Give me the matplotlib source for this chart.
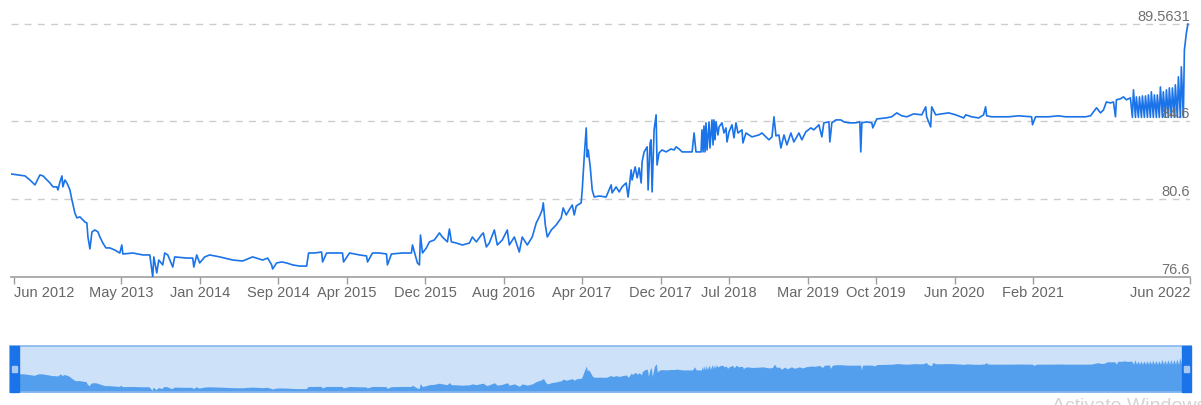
import matplotlib.pyplot as plt
from matplotlib.patches import Rectangle

plt.rcParams['font.family'] = ['Liberation Sans', 'DejaVu Sans']

# readings: decimal year, value
dates = [
    2012.400, 2012.519, 2012.561, 2012.604, 2012.646, 2012.672, 2012.731, 2012.757, 2012.790, 2012.799,
    2012.816, 2012.833, 2012.841, 2012.858, 2012.875, 2012.901, 2012.918, 2012.943, 2012.960, 2012.986,
    2013.028, 2013.045, 2013.054, 2013.071, 2013.088, 2013.113, 2013.139, 2013.156, 2013.181, 2013.207,
    2013.240, 2013.283, 2013.325, 2013.342, 2013.351, 2013.436, 2013.521, 2013.580, 2013.605, 2013.614,
    2013.639, 2013.656, 2013.690, 2013.707, 2013.733, 2013.775, 2013.792, 2013.894, 2013.945, 2013.954,
    2013.979, 2014.004, 2014.047, 2014.089, 2014.174, 2014.285, 2014.369, 2014.454, 2014.539, 2014.582,
    2014.616, 2014.624, 2014.658, 2014.701, 2014.743, 2014.794, 2014.853, 2014.913, 2014.930, 2014.981,
    2015.040, 2015.049, 2015.083, 2015.167, 2015.218, 2015.227, 2015.278, 2015.363, 2015.422, 2015.431,
    2015.473, 2015.532, 2015.592, 2015.600, 2015.634, 2015.728, 2015.804, 2015.813, 2015.855, 2015.872,
    2015.881, 2015.898, 2015.931, 2015.957, 2015.999, 2016.042, 2016.067, 2016.110, 2016.127, 2016.144,
    2016.186, 2016.237, 2016.297, 2016.322, 2016.356, 2016.398, 2016.415, 2016.441, 2016.466, 2016.509,
    2016.534, 2016.577, 2016.619, 2016.636, 2016.679, 2016.721, 2016.746, 2016.789, 2016.831, 2016.865,
    2016.891, 2016.916, 2016.925, 2016.942, 2016.959, 2016.993, 2017.035, 2017.077, 2017.094, 2017.120,
    2017.145, 2017.171, 2017.188, 2017.205, 2017.247, 2017.256, 2017.273, 2017.290, 2017.298, 2017.307,
    2017.324, 2017.341, 2017.358, 2017.400, 2017.459, 2017.502, 2017.510, 2017.544, 2017.570, 2017.595,
    2017.629, 2017.646, 2017.672, 2017.680, 2017.706, 2017.723, 2017.740, 2017.757, 2017.765, 2017.782,
    2017.808, 2017.816, 2017.833, 2017.841, 2017.850, 2017.867, 2017.884, 2017.892, 2017.909, 2017.935,
    2017.969, 2018.011, 2018.037, 2018.054, 2018.079, 2018.105, 2018.190, 2018.207, 2018.223, 2018.266,
    2018.274, 2018.283, 2018.291, 2018.300, 2018.308, 2018.317, 2018.334, 2018.342, 2018.359, 2018.368,
    2018.376, 2018.385, 2018.393, 2018.410, 2018.419, 2018.444, 2018.461, 2018.478, 2018.487, 2018.504,
    2018.529, 2018.546, 2018.563, 2018.580, 2018.614, 2018.622, 2018.648, 2018.699, 2018.758, 2018.784,
    2018.818, 2018.843, 2018.869, 2018.886, 2018.903, 2018.928, 2018.945, 2018.971, 2018.996, 2019.030,
    2019.055, 2019.098, 2019.123, 2019.157, 2019.200, 2019.225, 2019.268, 2019.293, 2019.310, 2019.353,
    2019.361, 2019.378, 2019.412, 2019.454, 2019.480, 2019.522, 2019.582, 2019.616, 2019.624, 2019.633,
    2019.675, 2019.718, 2019.726, 2019.760, 2019.836, 2019.887, 2019.930, 2019.972, 2020.015, 2020.074,
    2020.142, 2020.176, 2020.184, 2020.218, 2020.227, 2020.261, 2020.312, 2020.371, 2020.431, 2020.499,
    2020.516, 2020.566, 2020.626, 2020.668, 2020.685, 2020.694, 2020.736, 2020.796, 2020.881, 2020.965,
    2021.076, 2021.084, 2021.110, 2021.220, 2021.305, 2021.364, 2021.449, 2021.534, 2021.577, 2021.602,
    2021.628, 2021.662, 2021.687, 2021.712, 2021.746, 2021.772, 2021.789, 2021.797, 2021.831, 2021.857,
    2021.882, 2021.916, 2021.933, 2021.942, 2021.959, 2021.967, 2021.984, 2021.993, 2022.010, 2022.018,
    2022.035, 2022.044, 2022.061, 2022.069, 2022.086, 2022.094, 2022.111, 2022.120, 2022.137, 2022.145,
    2022.162, 2022.171, 2022.188, 2022.196, 2022.213, 2022.222, 2022.239, 2022.247, 2022.264, 2022.273,
    2022.290, 2022.298, 2022.315, 2022.324, 2022.341, 2022.349, 2022.366, 2022.375, 2022.383, 2022.392,
    2022.405,
]
rate = [
    81.88, 81.78, 81.57, 81.32, 81.83, 81.78, 81.42, 81.22, 81.22, 81.06,
    81.47, 81.78, 81.22, 81.57, 81.42, 81.06, 80.55, 79.88, 79.63, 79.68,
    79.42, 79.37, 78.65, 78.04, 78.91, 79.01, 78.91, 78.65, 78.34, 78.09,
    78.09, 77.98, 77.83, 78.24, 77.78, 77.83, 77.73, 77.73, 76.60, 77.63,
    76.81, 77.47, 77.22, 77.83, 77.73, 77.11, 77.63, 77.57, 77.57, 77.11,
    77.73, 77.32, 77.63, 77.73, 77.63, 77.47, 77.42, 77.63, 77.47, 77.57,
    77.22, 77.01, 77.32, 77.37, 77.32, 77.22, 77.16, 77.16, 77.83, 77.83,
    77.88, 77.37, 77.83, 77.83, 77.83, 77.37, 77.83, 77.73, 77.68, 77.37,
    77.83, 77.83, 77.78, 77.22, 77.78, 77.83, 77.83, 78.24, 77.32, 77.22,
    78.75, 77.83, 78.09, 78.40, 78.50, 78.86, 78.65, 78.40, 79.06, 78.40,
    78.34, 78.24, 78.34, 78.65, 78.40, 78.75, 78.86, 78.14, 78.34, 79.01,
    78.24, 78.50, 79.01, 78.24, 78.65, 77.88, 78.65, 78.24, 78.65, 79.37,
    79.68, 80.04, 80.40, 79.27, 78.65, 79.01, 79.27, 79.63, 80.14, 79.78,
    80.04, 80.29, 79.78, 80.24, 80.40, 81.06, 82.75, 84.24, 82.75, 83.11,
    82.24, 81.06, 80.70, 80.75, 80.70, 81.32, 80.91, 81.22, 80.96, 81.22,
    81.42, 80.70, 82.09, 81.57, 82.24, 81.68, 82.19, 81.42, 82.50, 83.01,
    83.27, 81.06, 83.47, 83.63, 80.96, 84.14, 84.91, 82.34, 82.96, 83.11,
    83.01, 83.16, 83.11, 83.27, 83.16, 83.01, 83.01, 83.98, 83.01, 83.01,
    84.14, 83.01, 84.34, 83.01, 84.50, 83.11, 84.55, 83.21, 84.65, 83.37,
    84.65, 83.63, 84.55, 83.88, 84.29, 84.50, 83.98, 84.24, 83.52, 84.04,
    84.40, 83.73, 84.50, 83.98, 84.14, 83.47, 83.98, 83.78, 83.88, 83.98,
    83.78, 83.63, 83.78, 84.81, 83.83, 83.88, 83.21, 83.88, 83.37, 83.98,
    83.52, 83.98, 83.63, 84.04, 84.24, 84.14, 84.40, 83.78, 84.50, 84.55,
    83.52, 84.50, 84.65, 84.65, 84.55, 84.50, 84.50, 84.55, 83.01, 84.50,
    84.55, 84.50, 84.24, 84.70, 84.75, 84.81, 85.01, 84.86, 84.81, 84.96,
    84.91, 85.32, 84.81, 84.29, 85.32, 84.91, 84.96, 85.01, 84.91, 84.75,
    84.91, 84.81, 84.75, 84.91, 85.32, 84.86, 84.81, 84.81, 84.81, 84.86,
    84.81, 84.40, 84.81, 84.81, 84.86, 84.81, 84.81, 84.81, 84.86, 85.06,
    85.27, 85.01, 85.16, 85.57, 85.52, 85.57, 84.81, 85.68, 85.73, 85.83,
    85.68, 85.78, 84.78, 86.19, 84.78, 85.83, 84.78, 85.83, 84.78, 85.88,
    84.78, 85.88, 84.78, 85.93, 84.78, 86.09, 84.78, 85.93, 84.78, 85.93,
    84.78, 86.34, 84.78, 86.09, 84.78, 86.19, 84.78, 86.29, 84.78, 86.29,
    84.78, 86.45, 84.78, 86.86, 84.78, 87.37, 84.78, 88.24, 88.65, 89.11,
    89.5631,
]

tick_months = ['2012-06', '2013-05', '2014-01', '2014-09', '2015-04', '2015-12', '2016-08',
               '2017-04', '2017-12', '2018-07', '2019-03', '2019-10', '2020-06', '2021-02', '2022-06']
tick_labels = ['Jun 2012', 'May 2013', 'Jan 2014', 'Sep 2014', 'Apr 2015', 'Dec 2015', 'Aug 2016',
               'Apr 2017', 'Dec 2017', 'Jul 2018', 'Mar 2019', 'Oct 2019', 'Jun 2020', 'Feb 2021', 'Jun 2022']
y_levels = [76.6, 80.6, 84.6, 89.5631]
y_labels = ['76.6', '80.6', '84.6', '89.5631']


def month_to_year(s):
    y, m = s.split('-')
    return int(y) + (int(m) - 1) / 12


line_col = '#1a73e8'
xlim = (2012.40, 2022.42)

fig = plt.figure(figsize=(12.01, 4.05), dpi=100)
ax = fig.add_axes([11 / 1201, 128 / 405, 1179 / 1201, 273.2 / 405])
ax.plot(dates, rate, color=line_col, lw=1.2, zorder=3)
ax.set_xlim(*xlim)
ax.set_ylim(76.6, 90.6)

for lvl in y_levels[1:]:
    ax.axhline(lvl, color='#cccccc', lw=1, dashes=(5, 4.5), zorder=1)
for lvl, lab in zip(y_levels, y_labels):
    ax.annotate(lab, xy=(1, lvl), xycoords=('axes fraction', 'data'), xytext=(0, 2.2),
                textcoords='offset points', ha='right', va='baseline',
                fontsize=10.5, color='#707070', zorder=4)

for s in ['top', 'left', 'right']:
    ax.spines[s].set_visible(False)
ax.spines['bottom'].set_color('#9e9e9e')
ax.spines['bottom'].set_linewidth(1.2)
ax.set_yticks([])
ax.set_xticks([month_to_year(m) + 0.006 for m in tick_months], tick_labels)
ax.tick_params(axis='x', length=5, width=1, color='#9e9e9e', labelcolor='#666666',
               labelsize=10.5, pad=1.5)
labs = ax.get_xticklabels()
labs[0].set_ha('left')
labs[-1].set_ha('right')

# range selector underneath
nav = fig.add_axes([10 / 1201, 13 / 405, 1181 / 1201, 46 / 405])
nav.set_facecolor('#cde1f9')
nav.fill_between(dates, rate, 76.1, color='#539fee', lw=0)
nav.set_xlim(*xlim)
nav.set_ylim(76.1, 90.5)
nav.set_xticks([])
nav.set_yticks([])
for s in nav.spines.values():
    s.set_color('#86b6ef')
    s.set_linewidth(1.2)
hw = 9 / 1181
for x0 in [0, 1 - hw]:
    nav.add_patch(Rectangle((x0, 0), hw, 1, transform=nav.transAxes, color=line_col,
                            zorder=5, clip_on=False))
    nav.add_patch(Rectangle((x0 + 2 / 1181, 0.5 - 3 / 46), 5 / 1181, 6 / 46,
                            transform=nav.transAxes, color='#a9c9f3', zorder=6, clip_on=False))

# faint watermark at the bottom edge, partly cut off as in the original screenshot
fig.text(1052 / 1201, 7 / 405, 'Activate Windows', fontsize=14, color='#d4d4d4',
         ha='left', va='top')

fig.savefig('out.png', dpi=100, facecolor='white')
